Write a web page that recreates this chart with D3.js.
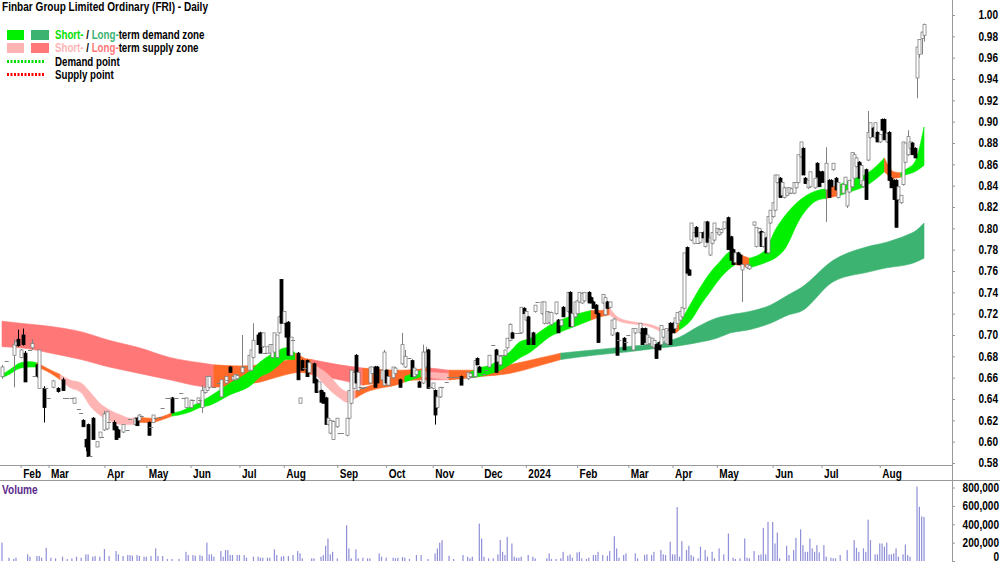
<!DOCTYPE html>
<html>
<head>
<meta charset="utf-8">
<script src="https://cdn.jsdelivr.net/npm/d3@7"></script>
<style>
  body { margin: 0; background: #fff; }
  svg { display: block; font-family: "Liberation Sans", Arial, sans-serif; }
</style>
</head>
<body>
<div id="chart"></div>
<script>
const title = "Finbar Group Limited Ordinary (FRI) - Daily";

// trading-day index, open, high, low, close (cents)
const candles = [
  [0,66.1,67.2,65.9,67.0],[5,68.1,69.6,65.1,69.1],[6,69.0,69.5,68.9,69.4],[7,69.6,70.5,68.9,69.0],
  [8,67.9,68.7,67.8,68.6],[9,70.0,70.6,69.0,69.1],[10,68.3,68.5,65.6,65.6],[13,68.8,69.6,68.6,69.2],
  [15,67.2,67.3,66.0,66.1],[16,65.0,68.6,65.0,68.6],[18,65.0,65.2,61.8,63.2],[22,65.1,65.8,65.0,65.7],
  [24,65.0,65.1,64.6,64.7],[26,65.8,66.0,64.8,64.8],[31,63.6,64.1,63.6,64.1],[35,62.0,62.1,61.4,61.4],
  [36,60.2,60.3,59.1,59.5],[37,61.6,61.7,58.6,58.6],[39,62.2,62.3,60.2,60.2],[41,59.5,60.0,59.5,60.0],
  [42,60.4,60.9,60.3,60.9],[44,61.1,62.9,61.0,62.6],[45,61.2,62.9,61.1,62.8],[48,61.8,62.0,61.1,61.1],
  [49,61.4,61.5,60.2,60.2],[50,61.1,61.2,60.4,60.4],[52,60.9,61.6,60.8,61.6],[57,61.6,62.3,61.5,62.2],
  [58,62.2,62.3,61.5,61.5],[59,62.0,62.6,61.9,62.5],[63,61.8,61.9,60.6,60.6],[65,61.8,62.5,61.8,62.5],
  [73,64.1,64.2,62.7,62.7],[79,63.2,64.1,63.2,64.1],[81,63.2,63.9,63.1,63.9],[84,63.6,64.1,63.5,64.1],
  [86,63.2,65.3,62.7,64.8],[87,64.6,65.1,64.5,65.1],[88,64.8,66.1,64.8,66.1],[89,65.1,66.2,65.0,66.1],
  [94,64.2,65.8,64.2,65.8],[96,65.5,66.1,65.4,66.1],[98,67.0,67.1,66.5,66.5],[99,65.8,66.1,65.7,66.1],
  [100,65.8,66.3,65.8,66.3],[101,65.9,66.3,65.8,66.2],[103,66.5,70.0,66.4,67.0],[106,66.7,68.1,66.6,68.1],
  [107,66.7,68.6,66.6,68.6],[108,67.9,71.1,67.8,69.5],[110,70.0,70.2,69.1,69.1],[111,70.2,70.3,68.3,68.3],
  [112,68.9,70.2,68.8,70.2],[114,68.3,68.9,68.3,68.9],[115,68.3,69.1,68.2,69.1],[116,67.9,69.1,67.9,69.1],
  [117,68.4,70.2,68.3,70.2],[118,67.9,70.0,67.8,70.0],[119,70.2,71.8,70.1,71.7],[120,75.2,75.2,71.1,71.1],
  [121,71.1,72.2,71.0,72.2],[122,71.1,71.2,69.8,69.8],[123,71.2,71.3,68.1,68.1],[124,68.1,69.8,68.0,69.8],
  [127,68.3,68.4,65.8,65.8],[128,63.6,64.1,63.6,64.1],[129,67.6,67.7,66.7,66.7],[131,67.6,67.7,66.1,66.1],
  [132,66.5,67.5,66.4,67.4],[134,67.3,67.4,65.5,65.5],[135,65.8,65.9,64.6,64.6],[136,64.7,65.6,64.6,65.6],
  [137,64.8,64.9,63.7,63.7],[138,64.6,64.7,63.6,63.6],[139,64.1,64.2,61.6,61.6],[140,61.6,62.2,61.5,62.2],
  [141,60.8,62.0,60.7,62.0],[142,60.2,62.0,60.2,61.9],[144,61.4,62.2,61.3,62.2],[148,60.6,62.2,60.5,62.2],
  [149,62.2,64.8,62.1,64.8],[150,63.6,66.7,63.5,66.7],[151,65.0,66.7,64.9,66.5],[152,68.1,68.2,65.5,65.5],
  [153,64.8,66.5,64.7,66.5],[158,65.5,67.0,65.4,67.0],[159,66.4,67.0,66.3,67.0],[160,67.0,67.1,65.1,65.1],
  [161,67.0,67.1,65.5,65.5],[163,65.8,66.7,65.7,66.7],[164,65.3,68.6,65.2,68.4],[165,66.7,66.8,65.5,65.5],
  [166,65.3,66.1,65.2,66.1],[168,66.0,67.0,65.9,67.0],[169,66.4,67.0,66.3,66.9],[171,65.8,65.9,65.1,65.1],
  [172,67.3,70.2,67.2,69.1],[173,67.0,68.6,66.9,68.0],[176,67.6,67.7,66.1,66.1],[177,66.1,66.9,66.0,66.9],
  [178,66.3,66.7,66.2,66.7],[179,65.6,65.7,65.1,65.1],[181,65.5,69.1,65.4,68.4],[182,67.0,68.9,66.9,68.4],
  [183,68.6,68.7,65.0,65.0],[185,65.0,65.5,64.9,65.5],[186,64.8,64.9,61.6,62.5],[187,63.2,64.2,63.1,64.2],
  [188,64.2,65.1,64.1,65.1],[197,66.1,66.2,65.3,65.3],[200,65.9,66.5,65.8,66.5],[201,66.1,66.4,66.0,66.4],
  [203,66.1,67.6,66.0,67.6],[204,67.8,67.9,67.2,67.2],[205,67.0,67.1,66.5,66.5],[209,67.0,68.1,66.9,68.1],
  [212,68.6,68.7,66.5,66.5],[213,67.5,68.1,67.4,68.1],[214,67.2,68.1,67.1,68.0],[216,68.1,68.6,68.0,68.6],
  [217,68.8,69.7,68.7,69.7],[218,69.5,71.1,69.4,71.0],[219,70.2,70.3,69.7,69.7],[223,70.2,72.6,70.1,72.6],
  [224,72.5,72.6,72.0,72.0],[225,71.4,72.2,71.3,72.2],[226,71.7,71.8,69.1,69.1],[228,70.2,70.3,69.1,69.1],
  [229,72.2,72.8,72.1,72.8],[232,72.0,73.1,71.9,73.1],[233,71.1,73.1,71.0,73.1],[234,71.1,72.2,71.0,72.2],
  [235,71.2,72.2,71.1,72.1],[236,71.0,72.2,70.9,72.1],[238,72.0,73.1,71.9,73.1],[239,71.4,71.5,70.2,70.2],
  [240,70.9,71.4,70.8,71.4],[241,72.6,72.7,71.7,71.7],[243,72.2,74.0,72.1,74.0],[244,74.0,74.1,70.8,70.8],
  [245,70.8,72.0,70.7,72.0],[246,71.7,73.1,71.6,73.1],[247,72.0,73.3,71.9,73.2],[248,73.1,74.0,73.0,74.0],
  [249,73.0,74.0,72.9,73.9],[250,73.2,74.0,73.1,74.0],[252,74.0,74.1,73.0,73.0],[253,73.5,73.6,73.0,73.0],
  [254,73.1,73.2,72.5,72.5],[255,72.8,72.9,72.0,72.0],[256,72.0,72.1,69.3,69.3],[258,73.0,73.8,72.9,73.8],
  [259,71.9,73.6,71.8,73.5],[260,73.1,73.2,72.5,72.5],[261,72.6,73.1,72.5,73.1],[262,70.0,71.4,69.9,71.4],
  [263,70.6,71.6,70.5,71.5],[264,70.2,70.3,68.1,68.1],[267,69.7,69.8,68.6,68.6],[271,68.6,70.6,68.5,70.6],
  [272,70.2,70.6,70.1,70.6],[274,70.2,71.1,70.1,71.1],[275,70.6,70.7,69.1,69.1],[276,70.6,70.7,69.3,69.3],
  [277,69.1,70.0,69.0,70.0],[278,69.2,69.8,69.1,69.8],[279,68.9,69.7,68.8,69.7],[280,68.8,69.5,68.7,69.5],
  [281,69.1,69.2,67.8,67.8],[282,69.3,69.4,68.6,68.6],[283,69.1,70.9,69.0,70.9],[284,69.8,70.5,69.7,70.5],
  [285,69.2,70.6,69.1,70.6],[286,69.1,70.5,69.0,70.4],[287,71.1,71.2,69.1,69.1],[288,71.1,71.2,70.2,70.2],
  [289,70.6,71.6,70.5,71.6],[290,71.1,72.1,71.0,72.1],[291,71.4,72.2,71.3,72.2],[292,71.7,72.6,71.6,72.6],
  [293,72.5,77.7,72.4,77.7],[294,78.2,78.3,75.8,75.8],[295,76.1,76.2,75.6,75.6],[296,78.9,80.5,78.8,80.5],
  [297,78.6,79.6,78.5,79.6],[298,80.1,80.2,79.2,79.2],[300,78.7,79.6,78.6,79.6],[301,79.6,79.7,79.1,79.1],
  [302,78.3,80.6,78.2,80.6],[303,80.6,80.7,78.7,78.7],[304,77.5,79.1,77.4,79.1],[305,78.6,79.6,78.5,79.6],
  [306,78.9,80.5,78.8,80.5],[307,79.6,80.0,79.5,80.0],[308,79.4,80.0,79.3,79.9],[309,79.6,80.0,79.5,79.9],
  [310,80.0,80.6,79.9,80.6],[312,81.0,81.1,78.0,78.0],[313,79.2,79.3,77.0,77.0],[314,78.0,78.1,76.6,76.6],
  [315,76.8,77.7,76.7,77.7],[316,77.7,77.8,76.6,76.6],[317,77.5,77.6,76.6,76.6],[318,76.1,76.6,73.1,76.6],
  [320,76.3,76.6,76.2,76.6],[321,76.2,76.6,76.1,76.5],[323,80.3,80.6,80.2,80.6],[324,78.3,80.1,78.2,80.1],
  [325,79.6,80.0,79.5,80.0],[326,79.7,79.8,78.3,78.3],[327,78.3,79.6,78.2,79.6],[328,79.1,79.2,77.7,77.7],
  [329,77.7,81.1,77.6,81.1],[330,80.5,81.7,80.4,81.7],[331,81.1,82.4,81.0,82.4],[332,81.7,85.0,81.6,85.0],
  [333,84.3,85.0,84.2,85.0],[334,84.7,84.8,82.9,82.9],[335,83.1,84.3,83.0,84.3],[336,82.9,83.9,82.8,83.8],
  [337,83.1,83.8,83.0,83.8],[338,83.3,83.8,83.2,83.8],[339,83.3,83.8,83.2,83.7],[340,83.3,84.3,83.2,84.3],
  [341,83.8,84.3,83.7,84.3],[342,84.3,86.9,84.2,86.9],[343,86.7,88.1,86.6,88.1],[344,87.5,87.6,85.0,85.0],
  [345,84.7,84.8,84.2,84.2],[346,83.8,84.5,83.7,84.5],[347,83.9,85.3,83.8,85.3],[349,83.8,84.7,83.7,84.7],
  [350,86.1,86.2,84.8,84.8],[351,85.3,85.4,83.9,83.9],[352,85.3,85.4,84.3,84.3],[354,83.6,87.6,80.6,86.1],
  [355,84.5,84.6,82.9,82.9],[356,84.5,84.6,83.9,83.9],[357,85.5,86.1,85.4,86.1],[358,84.7,84.8,83.6,83.6],
  [359,82.9,84.3,82.8,84.3],[361,83.3,84.1,83.2,84.1],[362,84.1,84.8,84.0,84.8],[363,82.1,83.6,81.9,83.6],
  [364,83.4,84.5,83.3,84.5],[365,83.9,87.1,83.8,87.1],[366,84.7,87.1,84.6,86.9],[367,85.8,86.7,85.7,86.6],
  [368,86.2,86.3,84.7,84.7],[369,84.1,86.1,84.0,85.9],[370,83.9,84.5,83.8,84.5],[371,85.5,85.6,82.7,82.7],
  [372,86.4,91.0,86.3,89.0],[373,88.5,89.9,88.4,89.9],[374,89.4,89.5,88.6,88.6],[375,88.5,89.9,88.4,89.9],
  [376,89.0,89.1,88.1,88.1],[377,88.1,88.8,88.0,88.8],[378,90.2,90.3,89.2,89.2],[379,90.2,90.3,88.3,88.3],
  [380,88.1,88.9,88.0,88.9],[381,89.0,89.1,84.5,84.5],[382,84.7,84.8,83.8,83.8],[383,84.5,84.6,82.7,82.7],
  [384,84.5,84.6,80.1,80.1],[385,82.7,83.9,82.6,83.9],[386,82.4,83.1,82.3,83.1],[387,84.1,88.1,84.0,88.1],
  [388,86.2,88.0,86.1,88.0],[389,86.9,89.2,86.8,88.6],[390,87.5,88.1,87.4,88.1],[391,88.0,88.1,86.9,86.9],
  [392,87.5,87.6,86.6,86.6],[393,94.1,97.0,92.2,97.0],[394,96.3,97.7,96.0,97.7],[395,97.8,98.4,96.3,98.4],
  [396,98.1,99.2,97.5,99.1]
];

// days with a single price (open = high = low = close)
const flatDays = [
  [2,67.6],[12,68.6],[14,66.2],[19,65.0],[20,64.1],[27,64.1],[28,64.1],[30,64.1],[33,63.1],[34,62.7],
  [38,58.7],[43,60.4],[46,61.8],[54,61.1],[55,62.1],[60,62.4],[64,61.4],[66,62.2],[68,62.3],[69,63.2],
  [71,64.1],[72,64.1],[75,64.1],[77,64.6],[78,64.1],[82,63.9],[85,63.9],[91,65.1],[93,65.5],[97,65.8],
  [104,67.0],[113,68.3],[125,69.5],[130,66.9],[145,60.8],[146,60.8],[154,65.1],[155,65.0],[156,65.1],
  [175,67.8],[184,65.1],[189,65.1],[191,65.6],[192,66.1],[194,66.1],[195,66.1],[196,66.1],[202,66.1],
  [207,66.3],[208,66.7],[211,69.1],[215,68.1],[221,70.2],[222,70.2],[230,73.1],[265,69.5],[268,69.3],
  [269,70.0],[299,78.6]
];

// trading-day index, volume (thousands of shares)
const volumes = [
  [0,200],[3,36],[5,22],[6,36],[11,72],[12,47],[15,54],[16,54],[17,36],[19,144],[21,36],[23,29],[26,47],
  [28,22],[30,29],[32,47],[34,36],[36,72],[37,72],[39,47],[40,54],[42,47],[44,130],[46,54],[49,108],[50,72],
  [52,54],[54,65],[55,65],[56,58],[58,65],[59,54],[61,47],[62,47],[64,54],[66,137],[67,54],[69,54],[71,22],
  [73,22],[76,22],[79,100],[80,65],[82,65],[83,58],[85,65],[86,54],[88,200],[89,72],[90,72],[91,47],[94,108],
  [95,47],[96,119],[97,119],[98,65],[99,65],[101,65],[102,65],[104,65],[105,36],[108,47],[110,47],[111,36],
  [112,36],[114,36],[115,36],[117,126],[118,65],[120,47],[121,54],[123,54],[125,65],[127,108],[128,83],[129,29],
  [133,29],[134,29],[137,47],[138,65],[139,166],[140,245],[141,72],[142,100],[144,29],[148,389],[149,137],
  [150,29],[152,126],[153,29],[155,36],[157,29],[158,29],[162,83],[163,47],[165,36],[168,36],[169,29],[170,36],
  [172,43],[173,36],[175,22],[178,65],[180,65],[183,22],[186,83],[187,137],[188,200],[189,227],[192,58],
  [194,22],[198,65],[200,47],[201,29],[202,47],[205,407],[206,245],[207,47],[209,29],[211,29],[213,72],
  [214,227],[215,100],[216,65],[217,263],[219,191],[220,47],[221,36],[222,36],[223,47],[226,65],[228,47],
  [229,29],[234,29],[235,83],[236,22],[238,22],[240,29],[241,100],[243,58],[244,72],[245,36],[247,93],
  [248,100],[249,29],[251,22],[252,36],[254,65],[255,65],[256,100],[258,65],[260,58],[261,108],[263,270],
  [264,137],[265,36],[267,65],[268,83],[272,83],[273,29],[276,65],[277,72],[279,65],[280,100],[283,119],
  [284,72],[285,65],[287,209],[288,72],[289,72],[290,587],[291,47],[292,216],[294,119],[295,166],[296,65],
  [297,47],[299,29],[300,155],[302,119],[303,47],[305,100],[306,29],[308,137],[310,72],[312,299],[314,36],
  [315,22],[317,29],[319,245],[320,36],[321,29],[323,108],[325,65],[326,72],[327,360],[328,72],[329,425],
  [331,425],[332,191],[333,309],[334,29],[337,166],[338,65],[340,119],[341,252],[343,345],[344,173],[345,100],
  [346,100],[347,245],[348,137],[349,100],[350,173],[351,94],[353,173],[354,47],[356,36],[357,29],[358,29],
  [360,65],[363,119],[366,227],[367,144],[368,100],[370,137],[371,100],[372,450],[373,227],[375,72],[376,72],
  [377,191],[378,191],[379,155],[380,200],[381,72],[382,72],[383,83],[384,137],[385,47],[387,72],[388,180],
  [389,65],[390,47],[393,810],[394,590],[395,485],[396,480]
];

// long-term zone: day, upper, lower (cents), state of the stretch that starts there
const longDays  = [0,8,21,34,46,59,72,85,91,102,111,119,128,133,145,155,171,184,192,205,218,232,240,254,268,283,291,299,307,313,321,330,338,343,357,372,380,389,392,396];
const longUpper = [71.3,71.1,70.8,70.3,69.5,68.8,67.9,67.4,67.2,67.1,67.2,67.5,67.8,67.7,67.2,66.9,66.7,66.9,66.7,66.7,67.2,67.9,68.3,68.6,68.9,69.3,69.8,70.8,71.6,71.9,72.2,72.8,73.8,74.4,77.0,78.3,78.7,79.4,79.7,80.5];
const longLower = [68.9,68.8,68.3,67.7,67.0,66.4,65.8,65.2,65.1,65.3,65.6,66.1,66.5,66.3,65.8,65.3,65.7,65.8,65.8,66.1,66.4,67.2,67.7,68.1,68.4,68.8,69.0,69.3,69.7,70.2,70.5,71.1,71.9,72.2,75.0,75.9,76.3,76.6,76.8,77.2];
const longState = ["s","s","s","s","s","s","s","s","m","m","m","m","m","s","s","m","m","s","m","m","m","m","d","d","d","d","d","d","d","d","d","d","d","d","d","d","d","d","d","d"];

// short-term zone
const shortDays  = [0,3,8,12,15,21,25,29,34,38,42,46,51,55,59,64,68,73,76,81,85,89,98,107,111,115,119,122,126,130,134,141,145,148,152,156,162,169,173,180,184,192,201,205,210,214,218,222,227,231,235,240,246,253,257,261,265,272,278,284,289,291,296,300,304,308,313,315,321,328,332,336,343,351,354,360,364,372,379,383,386,388,392,396];
const shortUpper = [66.3,66.7,67.4,67.5,67.4,66.7,66.3,65.8,65.5,64.6,63.6,63.0,62.5,62.2,62.3,62.2,62.3,62.7,62.8,63.3,63.7,64.2,65.5,66.7,67.5,68.1,68.6,68.8,68.3,67.8,67.2,66.1,65.1,64.7,64.8,65.1,65.5,65.8,66.1,66.7,66.5,66.4,66.5,66.9,67.2,67.8,68.4,69.3,69.7,70.3,70.9,71.4,71.9,72.3,72.3,72.5,71.6,71.2,71.0,70.5,70.7,71.1,73.0,74.5,75.8,76.8,77.8,77.7,77.2,78.0,79.8,81.1,82.7,83.6,83.7,84.1,84.5,85.2,86.6,85.3,85.2,85.5,86.2,89.5];
const shortLower = [66.0,66.3,66.9,67.0,67.0,66.4,65.8,65.1,64.6,63.3,62.5,62.0,61.6,61.6,61.8,61.8,62.0,62.4,62.5,62.8,63.2,63.4,64.4,65.3,66.1,66.5,67.2,67.7,67.7,67.2,66.5,64.8,64.1,63.7,64.1,64.6,65.0,65.3,65.6,66.1,66.0,65.8,66.0,66.1,66.4,66.7,67.2,67.8,68.4,69.1,69.8,70.3,70.8,71.4,71.7,71.9,71.3,71.0,70.8,70.2,70.2,70.5,71.4,72.8,74.0,75.2,76.3,76.6,76.3,76.8,77.2,78.0,81.0,82.7,82.8,83.1,83.4,84.1,85.3,84.7,84.8,85.0,85.3,85.9];
const shortState = ["d","d","d","d","m","m","s","s","s","s","s","s","s","s","m","m","m","d","d","d","d","d","d","d","d","d","d","d","m","m","s","s","s","s","m","m","m","m","d","s","s","m","d","d","d","d","d","d","d","d","d","d","d","m","m","s","s","s","s","m","m","d","d","d","d","d","d","m","d","d","d","d","d","d","m","d","d","d","m","m","d","d","d","d"];

const monthDays   = [8,20,44,62,81,102,121,144,165,185,206,225,247,269,288,307,331,352,377];
const monthLabels = ["Feb","Mar","Apr","May","Jun","Jul","Aug","Sep","Oct","Nov","Dec","2024","Feb","Mar","Apr","May","Jun","Jul","Aug"];
const priceTicks  = [58,60,62,64,66,68,70,72,74,76,78,80,82,84,86,88,90,92,94,96,98,100];
const volumeTicks = [0,200,400,600,800];

const shortColors = { d: "#00f000", s: "#ffb4b4", m: "#ff6a28" };
const longColors  = { d: "#3cb371", s: "#ff7777", m: "#ff6a28" };

const width = 1000, height = 562, axisX = 952, squeeze = 0.84;

const svg = d3.select("#chart").append("svg")
  .attr("width", width).attr("height", height);

const x = d3.scaleLinear().domain([0, 396]).range([2, 924]);
const y = d3.scaleLinear().domain([58, 100]).range([463, 15]);
const yv = d3.scaleLinear().domain([0, 800]).range([561, 487.5]);

// zones
function drawZone(days, upper, lower, state, colors) {
  const pts = days.map((d, i) => ({ d: d, t: upper[i], b: lower[i], s: state[i] }));
  const area = d3.area()
    .x(p => x(p.d)).y0(p => y(p.b)).y1(p => y(p.t))
    .curve(d3.curveMonotoneX);
  const g = svg.append("g");
  let start = 0;
  for (let i = 1; i < pts.length; i++) {
    if (i === pts.length - 1 || pts[i].s !== pts[start].s) {
      const seg = pts.slice(start, i + 1);
      g.append("path").datum(seg)
        .attr("fill", colors[pts[start].s])
        .attr("stroke", colors[pts[start].s]).attr("stroke-width", 0.6)
        .attr("d", area);
      start = i;
    }
  }
}
drawZone(longDays, longUpper, longLower, longState, longColors);
drawZone(shortDays, shortUpper, shortLower, shortState, shortColors);

// candles
const cg = svg.append("g");
const up = d => d[4] >= d[1];
cg.selectAll("line.wick").data(candles).join("line")
  .attr("class", "wick")
  .attr("x1", d => Math.round(x(d[0])) + 0.5).attr("x2", d => Math.round(x(d[0])) + 0.5)
  .attr("y1", d => y(d[2])).attr("y2", d => y(d[3]))
  .attr("stroke", d => up(d) ? "#808080" : "#000");
cg.selectAll("rect.body").data(candles).join("rect")
  .attr("class", "body")
  .attr("x", d => Math.round(x(d[0])) - 1)
  .attr("width", 3)
  .attr("y", d => y(Math.max(d[1], d[4])))
  .attr("height", d => Math.max(1, Math.abs(y(d[1]) - y(d[4]))))
  .attr("fill", d => up(d) ? "#fff" : "#000")
  .attr("stroke", d => up(d) ? "#808080" : "#000")
  .attr("stroke-width", 0.8);
cg.selectAll("line.flat").data(flatDays).join("line")
  .attr("class", "flat")
  .attr("x1", d => x(d[0]) - 2).attr("x2", d => x(d[0]) + 2)
  .attr("y1", d => Math.round(y(d[1])) + 0.5).attr("y2", d => Math.round(y(d[1])) + 0.5)
  .attr("stroke", "#808080");

// volume
svg.append("g").selectAll("rect").data(volumes).join("rect")
  .attr("x", d => x(d[0]) - 0.6).attr("width", 1.2)
  .attr("y", d => yv(d[1])).attr("height", d => yv(0) - yv(d[1]))
  .attr("fill", "#8f8fd8");

// frame lines
svg.append("line").attr("x1", 0).attr("x2", axisX).attr("y1", 465.5).attr("y2", 465.5).attr("stroke", "#999");
svg.append("line").attr("x1", 0).attr("x2", width).attr("y1", 480.5).attr("y2", 480.5).attr("stroke", "#999");
svg.append("line").attr("x1", axisX + 0.5).attr("x2", axisX + 0.5).attr("y1", 0).attr("y2", height).attr("stroke", "#999");

// axis labels are drawn in a narrow bold face
function narrowLabels(g, px, anchor) {
  g.selectAll("text")
    .attr("x", 0).attr("text-anchor", anchor)
    .attr("transform", `translate(${px},0) scale(${squeeze},1)`)
    .attr("font-family", null).attr("font-size", 12).attr("font-weight", "bold").attr("fill", "#000");
}

// price axis
const pa = svg.append("g").attr("transform", `translate(${axisX},0)`)
  .call(d3.axisRight(y).tickValues(priceTicks).tickSize(3).tickFormat(d => (d / 100).toFixed(2)));
pa.select(".domain").remove();
pa.selectAll(".tick line").attr("stroke", "#999");
narrowLabels(pa, 46, "end");

// volume axis
const va = svg.append("g").attr("transform", `translate(${axisX},0)`)
  .call(d3.axisRight(yv).tickValues(volumeTicks).tickSize(3).tickFormat(d => d3.format(",")(d * 1000)));
va.select(".domain").remove();
va.selectAll(".tick line").attr("stroke", "#999");
narrowLabels(va, 47, "end");
va.selectAll("text").filter(d => d === 0).attr("dy", "-0.05em");

// month axis
const ma = svg.append("g").attr("transform", "translate(0,465)")
  .call(d3.axisBottom(x).tickValues(monthDays).tickSize(3).tickFormat((d, i) => monthLabels[i]));
ma.select(".domain").remove();
ma.selectAll(".tick line").attr("stroke", "#999");
narrowLabels(ma, 2, "start");
ma.selectAll("text").attr("y", 4);

// title and legend (narrowed by a horizontal scale)
svg.append("text").attr("transform", "translate(2,11) scale(0.84,1)")
  .attr("font-size", 12).attr("font-weight", "bold").text(title);

const legend = svg.append("g").attr("font-size", 12).attr("font-weight", "bold");
const legRows = [
  { y: 30, a: shortColors.d, b: longColors.d, ca: "#00e000", cb: longColors.d, rest: "term demand zone" },
  { y: 43, a: shortColors.s, b: longColors.s, ca: shortColors.s, cb: longColors.s, rest: "term supply zone" }
];
legRows.forEach(r => {
  legend.append("rect").attr("x", 7).attr("y", r.y).attr("width", 17).attr("height", 10).attr("fill", r.a);
  legend.append("rect").attr("x", 31).attr("y", r.y).attr("width", 18).attr("height", 10).attr("fill", r.b);
  const t = legend.append("text").attr("transform", `translate(55,${r.y + 9}) scale(0.81,1)`);
  t.append("tspan").attr("fill", r.ca).text("Short-");
  t.append("tspan").attr("fill", "#000").text(" / ");
  t.append("tspan").attr("fill", r.cb).text("Long-");
  t.append("tspan").attr("fill", "#000").text(r.rest);
});
[{ y: 61.5, c: "#00dd00", label: "Demand point" }, { y: 74.5, c: "#ff0000", label: "Supply point" }].forEach(r => {
  legend.append("line").attr("x1", 7).attr("x2", 44).attr("y1", r.y).attr("y2", r.y)
    .attr("stroke", r.c).attr("stroke-width", 3).attr("stroke-dasharray", "2,1.5");
  legend.append("text").attr("transform", `translate(55,${r.y + 4}) scale(0.81,1)`)
    .attr("fill", "#000").text(r.label);
});

svg.append("text").attr("transform", "translate(2,494) scale(0.84,1)")
  .attr("font-size", 12).attr("font-weight", "bold")
  .attr("fill", "#5b2a8c").text("Volume");
</script>
</body>
</html>
